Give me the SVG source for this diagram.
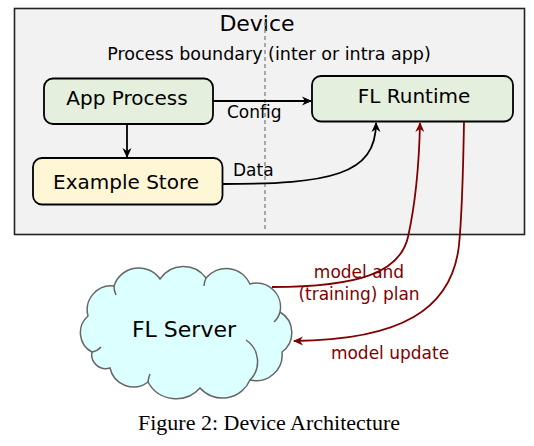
<svg xmlns="http://www.w3.org/2000/svg" width="534" height="446" viewBox="0 0 534 446">
<style>
  .lbl { font-family: "DejaVu Sans", sans-serif; fill: #000; }
  .box { stroke: #000; stroke-width: 1.8; }
  .green { fill: #e4efde; }
  .yellow { fill: #fff6d5; }
  .conn { fill: none; stroke: #000; stroke-width: 1.8; }
  .red { fill: none; stroke: #800000; stroke-width: 1.8; }
  .redtxt { font-family: "DejaVu Sans", sans-serif; fill: #800000; font-size: 17px; text-anchor: middle; }
</style>
<defs>
  <marker id="ahBlack" viewBox="-10 -6 12 12" refX="0" refY="0" markerWidth="12" markerHeight="12" markerUnits="userSpaceOnUse" orient="auto">
    <path d="M1,0 L-9,-4.5 L-6,0 L-9,4.5 Z" fill="#000"/>
  </marker>
  <marker id="ahRed" viewBox="-10 -6 12 12" refX="0" refY="0" markerWidth="12" markerHeight="12" markerUnits="userSpaceOnUse" orient="auto">
    <path d="M1,0 L-9,-4.5 L-6,0 L-9,4.5 Z" fill="#800000"/>
  </marker>
</defs>
<rect width="534" height="446" fill="#fff"/>

<g id="device">
  <rect x="14.5" y="8.5" width="510" height="226" fill="#f2f2f2" stroke="#222" stroke-width="1.6"/>
  <text class="lbl" x="257" y="31" font-size="22" text-anchor="middle">Device</text>
  <line x1="265" y1="22" x2="265" y2="230" stroke="#8a8a8a" stroke-width="1.4" stroke-dasharray="4,3"/>
  <text class="lbl" x="269" y="60" font-size="17.5" text-anchor="middle">Process boundary (inter or intra app)</text>
</g>

<g id="app-process">
  <rect class="box green" x="44" y="78.5" width="169" height="45.5" rx="9"/>
  <text class="lbl" x="127" y="105" font-size="20" text-anchor="middle">App Process</text>
</g>

<g id="fl-runtime">
  <rect class="box green" x="312" y="76" width="201" height="45.5" rx="9"/>
  <text class="lbl" x="414" y="103" font-size="20" text-anchor="middle">FL Runtime</text>
</g>

<g id="example-store">
  <rect class="box yellow" x="33" y="158" width="189.5" height="46.5" rx="9"/>
  <text class="lbl" x="126" y="189" font-size="20" text-anchor="middle">Example Store</text>
</g>

<g id="fl-server">
  <path d="M92,352 A22,22 0 0 1 88,316 A24,24 0 0 1 114,286 A26,26 0 0 1 160,279 A28,28 0 0 1 206,278 A26,26 0 0 1 250,284 A24,24 0 0 1 280,312 A24,24 0 0 1 282,352 A26,26 0 0 1 250,380 A30,30 0 0 1 200,388 A32,32 0 0 1 148,382 A24,24 0 0 1 110,368 A14,14 0 0 1 92,352 Z" fill="#dcffff" stroke="#666" stroke-width="1.5"/>
  <g fill="none" stroke="#666" stroke-width="1.5">
    <path d="M92,352 A16,16 0 0 0 101,347"/>
    <path d="M114,286 A20,20 0 0 0 116,295"/>
    <path d="M206,278 A22,22 0 0 0 204,286"/>
    <path d="M280,312 A20,20 0 0 1 274,322"/>
    <path d="M250,380 A26,26 0 0 0 246,340"/>
    <path d="M148,382 A28,28 0 0 1 150,374"/>
  </g>
  <text class="lbl" x="184" y="337" font-size="22" text-anchor="middle">FL Server</text>
</g>

<g id="connectors">
  <line class="conn" x1="213" y1="101" x2="311" y2="101" marker-end="url(#ahBlack)"/>
  <text class="lbl" x="227" y="118" font-size="17">Config</text>
  <line class="conn" x1="127" y1="124" x2="127" y2="157" marker-end="url(#ahBlack)"/>
  <path class="conn" d="M222.5,184 C330,184 376,175 376,123" marker-end="url(#ahBlack)"/>
  <text class="lbl" x="233" y="176" font-size="17">Data</text>
  <path class="red" d="M272,287 C360,287 400,272 408,237 C414,210 419,170 420,123" marker-end="url(#ahRed)"/>
  <text class="redtxt" x="359" y="278">model and</text>
  <text class="redtxt" x="359" y="300">(training) plan</text>
  <path class="red" d="M464,122 C463,180 462,215 459,245 C452,310 400,340 294,341" marker-end="url(#ahRed)"/>
  <text class="redtxt" x="390" y="359">model update</text>
</g>

<text x="269" y="430" font-family="Liberation Serif, serif" font-size="22" text-anchor="middle" fill="#000">Figure 2: Device Architecture</text>
</svg>
